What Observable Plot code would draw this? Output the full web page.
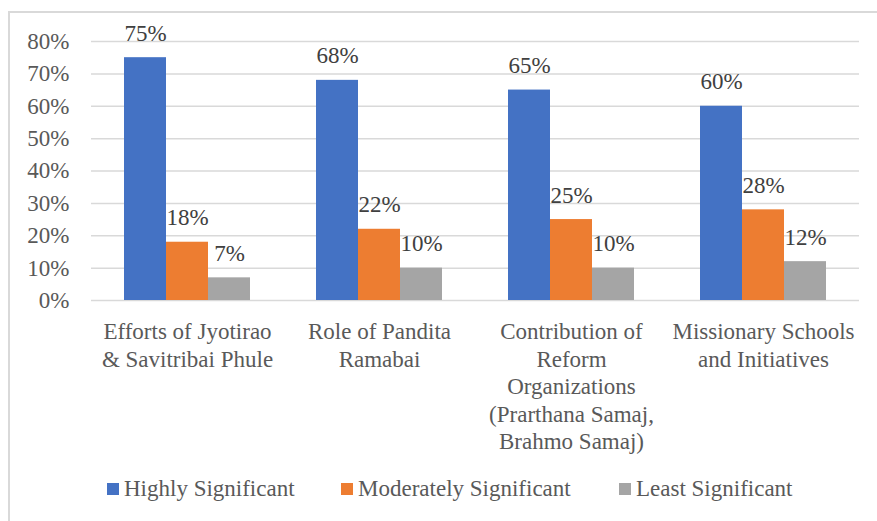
<!DOCTYPE html>
<html><head><meta charset="utf-8">
<script src="https://cdn.jsdelivr.net/npm/d3@7"></script>
<script src="https://cdn.jsdelivr.net/npm/@observablehq/plot@0.6"></script>
<style>
body{margin:0;background:#fff;}
#wrap{position:relative;width:877px;height:521px;overflow:hidden;font-family:"Liberation Serif",Tinos,"Times New Roman",Times,"DejaVu Serif",serif;color:#595959;}
#frame{position:absolute;left:8px;top:11px;width:900px;height:540px;border:2px solid #d9d9d9;box-sizing:border-box;}
#chart{position:absolute;left:0;top:0;}
#chart svg, #chart svg text{font-family:"Liberation Serif",Tinos,"Times New Roman",Times,"DejaVu Serif",serif !important;}
#legend{position:absolute;left:0;top:475px;width:877px;height:30px;font-size:23px;line-height:28px;white-space:nowrap;}
.item{position:absolute;top:0;display:flex;align-items:center;gap:5px;}
.sw{width:12px;height:12px;display:inline-block;}
</style></head><body>
<div id="wrap"><div id="frame"></div><div id="chart"></div><div id="legend"></div></div>
<script>
const categories = [
  "Efforts of Jyotirao & Savitribai Phule",
  "Role of Pandita Ramabai",
  "Contribution of Reform Organizations (Prarthana Samaj, Brahmo Samaj)",
  "Missionary Schools and Initiatives"
];
const categoryLabels = [
  "Efforts of Jyotirao\n& Savitribai Phule",
  "Role of Pandita\nRamabai",
  "Contribution of\nReform\nOrganizations\n(Prarthana Samaj,\nBrahmo Samaj)",
  "Missionary Schools\nand Initiatives"
];
const series = ["Highly Significant", "Moderately Significant", "Least Significant"];
const highlySignificant = [0.75, 0.68, 0.65, 0.60];
const moderatelySignificant = [0.18, 0.22, 0.25, 0.28];
const leastSignificant = [0.07, 0.10, 0.10, 0.12];
const seriesColors = ["#4472C4", "#ED7D31", "#A5A5A5"];
const yTicks = [0, 0.1, 0.2, 0.3, 0.4, 0.5, 0.6, 0.7, 0.8];

const seriesValues = [highlySignificant, moderatelySignificant, leastSignificant];
const data = [];
categories.forEach((c, i) => {
  series.forEach((s, j) => data.push({category: c, series: s, value: seriesValues[j][i]}));
});
const pct = d3.format(".0%");

const chart = Plot.plot({
  width: 877,
  height: 470,
  marginLeft: 90,
  marginRight: 17,
  marginTop: 41,
  marginBottom: 170,
  style: {color: "#595959", background: "transparent", overflow: "visible"},
  fx: {domain: categories, padding: 0, label: null},
  x: {domain: series, paddingInner: 0, paddingOuter: 0.75, axis: null},
  y: {domain: [0, 0.8], axis: null},
  color: {domain: series, range: seriesColors},
  marks: [
    Plot.gridY(yTicks, {stroke: "#d9d9d9", strokeOpacity: 1, strokeWidth: 1.5}),
    Plot.axisY(yTicks, {tickFormat: pct, tickSize: 0, tickPadding: 22, fontSize: 23, fill: "#595959", label: null}),
    Plot.axisFx({anchor: "bottom", tickSize: 0, tickPadding: 19, fontSize: 23, lineHeight: 1.2, fill: "#595959",
      tickFormat: d => categoryLabels[categories.indexOf(d)], label: null}),
    Plot.barY(data, {fx: "category", x: "series", y: "value", fill: "series"}),
    Plot.text(data, {fx: "category", x: "series", y: "value", text: d => pct(d.value),
      lineAnchor: "bottom", dy: -17, fontSize: 23, fill: "#404040"})
  ]
});
document.getElementById("chart").appendChild(chart);

const legendLeft = [107, 341, 619];
const legend = document.getElementById("legend");
series.forEach((s, j) => {
  const item = document.createElement("div");
  item.className = "item";
  item.style.left = legendLeft[j] + "px";
  const sw = document.createElement("span");
  sw.className = "sw";
  sw.style.background = seriesColors[j];
  const label = document.createElement("span");
  label.textContent = s;
  item.appendChild(sw);
  item.appendChild(label);
  legend.appendChild(item);
});
</script>
</body></html>
